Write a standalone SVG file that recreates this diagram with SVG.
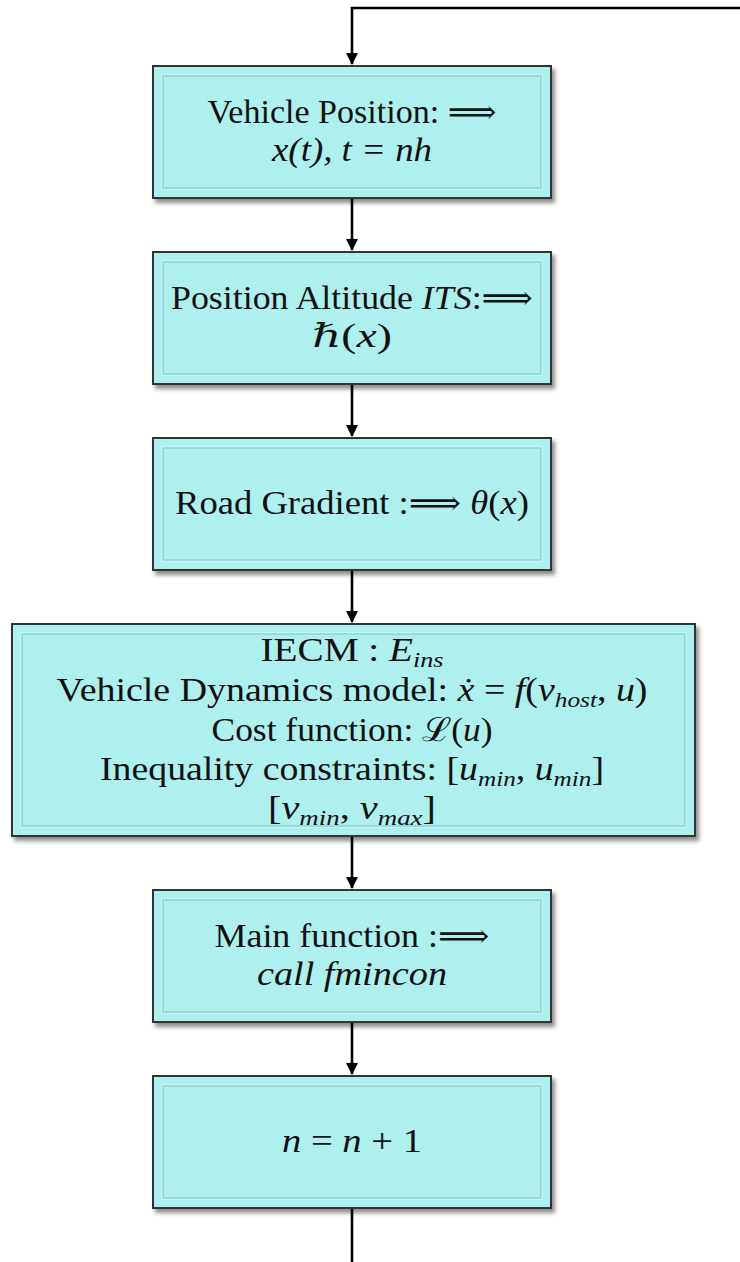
<svg xmlns="http://www.w3.org/2000/svg" width="740" height="1262" viewBox="0 0 740 1262">
  <style>
    .box { fill: #aef0ee; stroke: #2e3433; stroke-width: 2; }
    .inner { fill: none; stroke: #8fd3d0; stroke-width: 1.5; }
    .hl { fill: none; stroke: #d6fbfa; stroke-width: 1.2; }
    .t { font-family: "Liberation Serif", "DejaVu Serif", serif; font-size: 33px; fill: #111; text-anchor: middle; }
    .m { font-style: italic; }
    .s { font-size: 22px; font-style: italic; }
    .wire { fill: none; stroke: #000; stroke-width: 2.6; }
  </style>
  <defs>
    <filter id="shadow" x="-5%" y="-5%" width="115%" height="120%">
      <feDropShadow dx="3" dy="4" stdDeviation="2.2" flood-color="#000" flood-opacity="0.45"/>
    </filter>
    <marker id="arrow" markerUnits="userSpaceOnUse" markerWidth="12" markerHeight="16" refX="11" refY="6" orient="auto">
      <path d="M0,0 L12,6 L0,12 z" fill="#000"/>
    </marker>
  </defs>

  <!-- connectors -->
  <g id="connectors">
    <path class="wire" d="M740,8 H352 V64" marker-end="url(#arrow)"/>
    <path class="wire" d="M352,198 V250" marker-end="url(#arrow)"/>
    <path class="wire" d="M352,384 V436" marker-end="url(#arrow)"/>
    <path class="wire" d="M352,570 V622" marker-end="url(#arrow)"/>
    <path class="wire" d="M352,836 V888" marker-end="url(#arrow)"/>
    <path class="wire" d="M352,1022 V1074" marker-end="url(#arrow)"/>
    <path class="wire" d="M352,1208 V1262"/>
  </g>

  <!-- position -->
  <g id="node-position">
    <rect class="box" x="153" y="66" width="398" height="132" filter="url(#shadow)"/>
    <rect class="hl" x="162" y="75" width="380" height="114"/>
    <rect class="inner" x="163" y="76" width="378" height="112"/>
    <text class="t" x="352" y="123" textLength="289" lengthAdjust="spacingAndGlyphs">Vehicle Position: ⟹</text>
    <text class="t m" x="352" y="161" textLength="160" lengthAdjust="spacingAndGlyphs">x(t), t = nh</text>
  </g>

  <!-- altitude -->
  <g id="node-altitude">
    <rect class="box" x="153" y="252" width="398" height="132" filter="url(#shadow)"/>
    <rect class="hl" x="162" y="261" width="380" height="114"/>
    <rect class="inner" x="163" y="262" width="378" height="112"/>
    <text class="t" x="352" y="309" textLength="362" lengthAdjust="spacingAndGlyphs">Position Altitude <tspan class="m">ITS</tspan>:⟹</text>
    <text class="t" x="352" y="347" textLength="80" lengthAdjust="spacingAndGlyphs"><tspan class="m">ℏ</tspan>(<tspan class="m">x</tspan>)</text>
  </g>

  <!-- gradient -->
  <g id="node-gradient">
    <rect class="box" x="153" y="438" width="398" height="132" filter="url(#shadow)"/>
    <rect class="hl" x="162" y="447" width="380" height="114"/>
    <rect class="inner" x="163" y="448" width="378" height="112"/>
    <text class="t" x="352" y="514" textLength="354" lengthAdjust="spacingAndGlyphs">Road Gradient :⟹  <tspan class="m">θ</tspan>(<tspan class="m">x</tspan>)</text>
  </g>

  <!-- model -->
  <g id="node-model">
    <rect class="box" x="12" y="624" width="683" height="212" filter="url(#shadow)"/>
    <rect class="hl" x="21" y="633" width="665" height="194"/>
    <rect class="inner" x="22" y="634" width="663" height="192"/>
    <text class="t" x="352" y="661" textLength="183" lengthAdjust="spacingAndGlyphs">IECM : <tspan class="m">E</tspan><tspan class="s" dy="6">ins</tspan></text>
    <text class="t" x="352" y="701" textLength="591" lengthAdjust="spacingAndGlyphs">Vehicle Dynamics model: <tspan class="m">ẋ</tspan> = <tspan class="m">f</tspan>(<tspan class="m">v</tspan><tspan class="s" dy="6">host</tspan><tspan dy="-6">, </tspan><tspan class="m">u</tspan>)</text>
    <text class="t" x="352" y="741" textLength="281" lengthAdjust="spacingAndGlyphs">Cost function: ℒ(<tspan class="m">u</tspan>)</text>
    <text class="t" x="352" y="780" textLength="504" lengthAdjust="spacingAndGlyphs">Inequality constraints: [<tspan class="m">u</tspan><tspan class="s" dy="6">min</tspan><tspan dy="-6">, </tspan><tspan class="m">u</tspan><tspan class="s" dy="6">min</tspan><tspan dy="-6">]</tspan></text>
    <text class="t" x="352" y="819" textLength="168" lengthAdjust="spacingAndGlyphs">[<tspan class="m">v</tspan><tspan class="s" dy="6">min</tspan><tspan dy="-6">, </tspan><tspan class="m">v</tspan><tspan class="s" dy="6">max</tspan><tspan dy="-6">]</tspan></text>
  </g>

  <!-- main -->
  <g id="node-main">
    <rect class="box" x="153" y="890" width="398" height="132" filter="url(#shadow)"/>
    <rect class="hl" x="162" y="899" width="380" height="114"/>
    <rect class="inner" x="163" y="900" width="378" height="112"/>
    <text class="t" x="352" y="947" textLength="275" lengthAdjust="spacingAndGlyphs">Main function :⟹</text>
    <text class="t m" x="352" y="985" textLength="190" lengthAdjust="spacingAndGlyphs">call fmincon</text>
  </g>

  <!-- step -->
  <g id="node-step">
    <rect class="box" x="153" y="1076" width="398" height="132" filter="url(#shadow)"/>
    <rect class="hl" x="162" y="1085" width="380" height="114"/>
    <rect class="inner" x="163" y="1086" width="378" height="112"/>
    <text class="t" x="352" y="1152" textLength="140" lengthAdjust="spacingAndGlyphs"><tspan class="m">n</tspan> = <tspan class="m">n</tspan> + 1</text>
  </g>
</svg>
